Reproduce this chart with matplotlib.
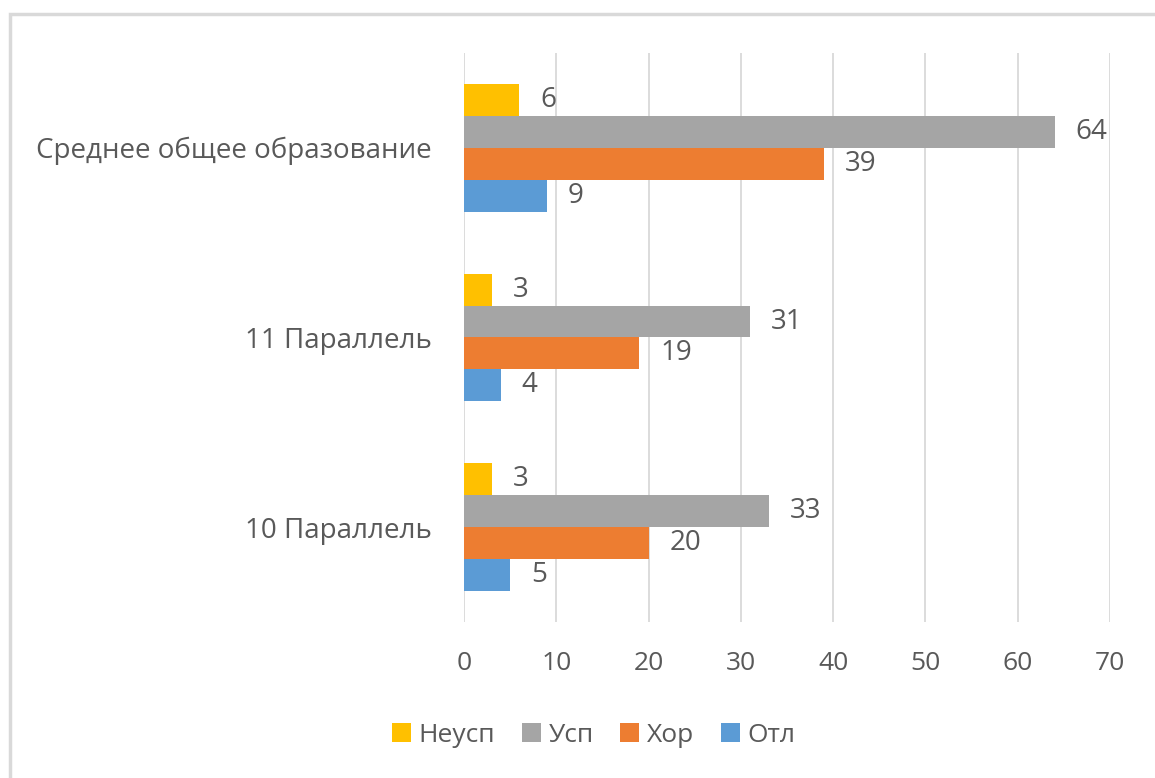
import matplotlib
matplotlib.use("Agg")
import matplotlib.pyplot as plt
from matplotlib.patches import Rectangle
import numpy as np

categories = ["10 Параллель", "11 Параллель", "Среднее общее образование"]
series_names = ["Отл", "Хор", "Усп", "Неусп"]
otl = [5, 4, 9]
hor = [20, 19, 39]
usp = [33, 31, 64]
neusp = [3, 3, 6]
series_values = [otl, hor, usp, neusp]
colors = ["#5B9BD5", "#ED7D31", "#A5A5A5", "#FFC000"]
x_ticks = [0, 10, 20, 30, 40, 50, 60, 70]

plt.rcParams["font.family"] = ["Open Sans", "DejaVu Sans"]
text_color = "#595959"

fig = plt.figure(figsize=(11.55, 7.78), dpi=100)
ax = fig.add_axes([0.4017, 0.2005, 0.5593, 0.7314])

# outer chart frame
fig.patches.append(Rectangle((0.0085, -0.05), 1.2, 1.05 - 14 / 778, transform=fig.transFigure,
                             fill=False, edgecolor="#d9d9d9", linewidth=2.5))

n = len(series_names)
bar_h = 0.168
y = np.arange(len(categories))
for i, (name, vals, col) in enumerate(zip(series_names, series_values, colors)):
    offs = (i - (n - 1) / 2) * bar_h
    bars = ax.barh(y + offs, vals, height=bar_h, color=col, label=name, zorder=3)
    ax.bar_label(bars, labels=[str(v) for v in vals], padding=15,
                 fontsize=20, color=text_color)

ax.set_xlim(0, 70)
ax.set_ylim(-0.5, 2.5)
ax.set_xticks(x_ticks)
ax.set_yticks(y)
ax.set_yticklabels(categories)
ax.tick_params(axis="x", length=0, pad=21, labelsize=19, labelcolor=text_color)
ax.tick_params(axis="y", length=0, pad=23, labelsize=20, labelcolor=text_color)
ax.grid(axis="x", color="#d9d9d9", linewidth=1.3, zorder=0)
for s in ax.spines.values():
    s.set_visible(False)

handles, labels = ax.get_legend_handles_labels()
leg = fig.legend(handles[::-1], labels[::-1], loc="center", bbox_to_anchor=(0.514, 0.055),
                 ncol=4, frameon=False, fontsize=19, handlelength=0.72, handleheight=0.72,
                 handletextpad=0.3, columnspacing=1.0)
for t in leg.get_texts():
    t.set_color(text_color)

fig.savefig("out.png", dpi=100)
